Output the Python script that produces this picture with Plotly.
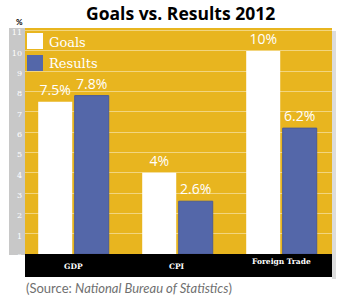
import plotly.graph_objects as go

categories = ["GDP", "CPI", "Foreign Trade"]
series_names = ["Goals", "Results"]
goals = [7.5, 4.0, 10.0]
results = [7.8, 2.6, 6.2]
goal_labels = ["7.5%", "4%", "10%"]
result_labels = ["7.8%", "2.6%", "6.2%"]
y_ticks = list(range(0, 12))

W, H = 350, 299
L, R, T, B = 25, 332, 28, 254
PW, PH = R - L, B - T

def px(x):
    return (x - L) / PW

def py(y):
    return (B - y) / PH

YELLOW = "#E8B51F"
BLUE = "#5467A9"
GRAY = "#C8C8C8"

label_font = dict(color="white", size=14, family="Open Sans", weight="normal")

fig = go.Figure()
fig.add_trace(go.Bar(
    x=categories, y=goals, name=series_names[0],
    marker=dict(color="white", line=dict(width=0)),
    text=goal_labels, textposition="outside",
    outsidetextfont=label_font,
    cliponaxis=False, showlegend=False,
))
fig.add_trace(go.Bar(
    x=categories, y=results, name=series_names[1],
    marker=dict(color=BLUE, line=dict(width=1, color="#4a5b98")),
    text=result_labels, textposition="outside",
    outsidetextfont=label_font,
    cliponaxis=False, showlegend=False,
))

shapes = []
# drop shadow
shapes.append(dict(type="rect", xref="paper", yref="paper", layer="below",
                   x0=px(R), x1=px(R + 4), y0=py(279), y1=py(T + 3),
                   fillcolor="#dcdcdc", line=dict(width=0)))
# gray y-axis strip
shapes.append(dict(type="rect", xref="paper", yref="paper", layer="below",
                   x0=px(9), x1=px(L), y0=py(255), y1=py(T),
                   fillcolor=GRAY, line=dict(width=0)))
# black category band
shapes.append(dict(type="rect", xref="paper", yref="paper", layer="above",
                   x0=px(L), x1=px(R), y0=py(277), y1=py(B),
                   fillcolor="black", line=dict(width=0)))
# legend squares
shapes.append(dict(type="rect", xref="paper", yref="paper",
                   x0=px(27), x1=px(43), y0=py(49), y1=py(33),
                   fillcolor="white", line=dict(width=0)))
shapes.append(dict(type="rect", xref="paper", yref="paper",
                   x0=px(27), x1=px(43), y0=py(71), y1=py(55),
                   fillcolor=BLUE, line=dict(width=0)))

annotations = []
annotations.append(dict(text="Goals vs. Results 2012", xref="paper", yref="paper",
                        x=px(180), y=py(13), showarrow=False, xanchor="center", yanchor="middle",
                        font=dict(family="Open Sans", size=17.5, color="black", weight="bold")))
annotations.append(dict(text="%", xref="paper", yref="paper",
                        x=px(19), y=py(22), showarrow=False, xanchor="center", yanchor="middle",
                        font=dict(family="Lato", size=8, color="black", weight="bold")))
annotations.append(dict(text=series_names[0], xref="paper", yref="paper",
                        x=px(47), y=py(42), showarrow=False, xanchor="left", yanchor="middle",
                        font=dict(family="DejaVu Serif", size=13, color="white")))
annotations.append(dict(text=series_names[1], xref="paper", yref="paper",
                        x=px(47), y=py(63), showarrow=False, xanchor="left", yanchor="middle",
                        font=dict(family="DejaVu Serif", size=13, color="white")))
cat_y = [266, 266, 261]
for c, yy in zip(categories, cat_y):
    annotations.append(dict(text=c, xref="x", yref="paper", x=c, y=py(yy),
                            showarrow=False, xanchor="center", yanchor="middle",
                            font=dict(family="DejaVu Serif", size=7.5, color="white", weight="bold")))
annotations.append(dict(text="(Source: <i>National Bureau of Statistics</i>)", xref="paper", yref="paper",
                        x=px(24), y=py(288), showarrow=False, xanchor="left", yanchor="middle",
                        font=dict(family="Lato", size=13, color="#707070")))

fig.update_layout(
    width=W, height=H,
    margin=dict(l=L, r=W - R, t=T, b=H - B, pad=0),
    paper_bgcolor="white", plot_bgcolor=YELLOW,
    barmode="group", bargap=0.298, bargroupgap=0.068,
    shapes=shapes, annotations=annotations,
    xaxis=dict(type="category", range=[-0.466, 2.486], showticklabels=False,
               showgrid=False, zeroline=False, showline=False, fixedrange=True),
    yaxis=dict(range=[0, 11.13], tickvals=y_ticks, ticktext=[str(v) for v in y_ticks],
               showgrid=True, gridcolor="#F2D57E", gridwidth=1, zeroline=False,
               showline=False, ticks="", ticklabelstandoff=2, ticklabelshift=2,
               tickfont=dict(family="DejaVu Serif", size=8, color="white")),
)

fig.write_html("out.html")
